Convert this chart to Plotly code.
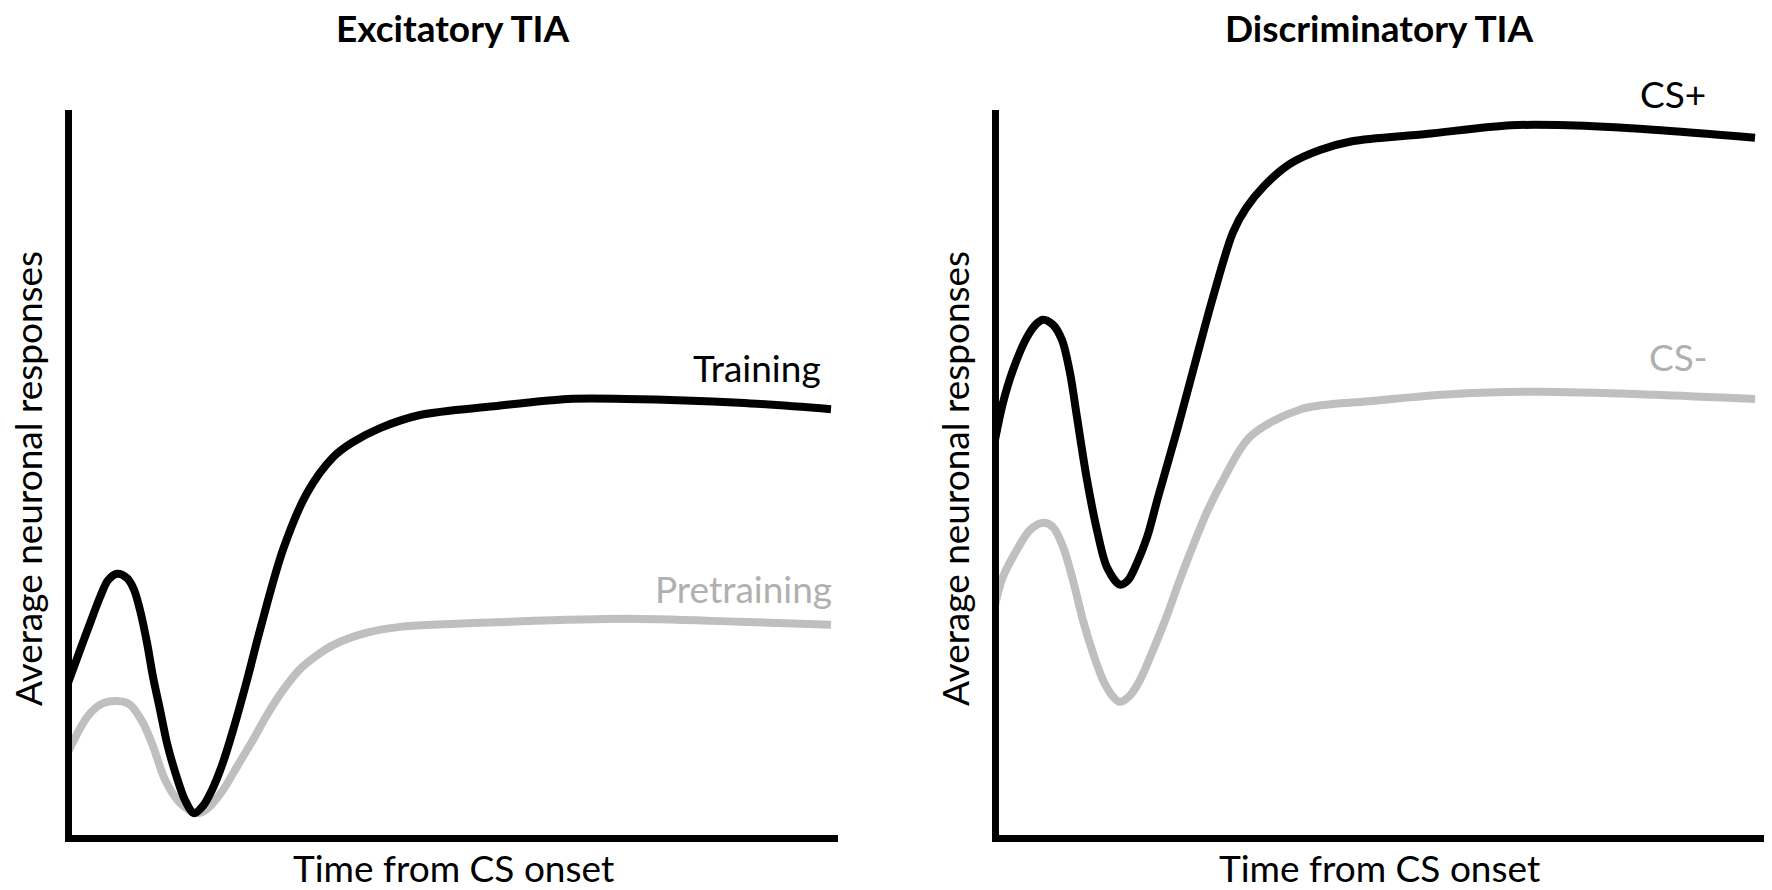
import plotly.graph_objects as go

# ---- data (arbitrary units: x = time 0..100, y = response 0..100) ----
train_x = [0, 1.56, 2.86, 4.16, 5.19, 6.36, 7.66, 8.57, 9.35, 10.26, 11.04, 11.95, 12.86, 14.03, 15.19,
           16.36, 17.53, 18.70, 20.0, 21.43, 23.25, 24.94, 27.92, 31.04, 34.42, 36.88, 40.52, 45.71,
           55.32, 64.94, 72.34, 87.14, 99.09]
train_y = [21.3, 25.8, 29.5, 33.1, 35.4, 36.3, 35.7, 34.1, 31.3, 26.8, 22.1, 17.6, 13.0, 8.65, 5.2,
           3.4, 4.4, 6.6, 10.0, 14.8, 21.7, 28.6, 39.6, 47.4, 52.3, 54.3, 56.3, 58.1,
           59.3, 60.3, 60.3, 59.8, 58.9]

pre_x = [0, 2.47, 4.16, 6.36, 8.05, 9.74, 11.04, 12.60, 14.55, 16.88, 18.18, 20.13, 21.95, 24.03, 25.84,
         27.92, 30.13, 32.34, 34.42, 38.83, 43.12, 57.53, 72.34, 87.14, 99.09]
pre_y = [11.8, 16.6, 18.3, 18.8, 18.3, 15.8, 12.6, 8.0, 4.8, 3.4, 4.1, 6.6, 9.8, 13.5, 16.9,
         20.3, 23.2, 25.1, 26.5, 28.2, 29.0, 29.7, 30.1, 29.7, 29.3]

csp_x = [0, 1.04, 2.34, 4.16, 5.46, 6.24, 7.54, 8.71, 9.75, 10.66, 11.96, 13.26, 14.56, 16.25, 17.30,
         18.47, 19.77, 21.20, 23.67, 26.01, 28.35, 30.95, 32.64, 35.11, 38.36, 42.26, 46.42, 56.05, 67.10,
         74.51, 85.57, 98.83]
csp_y = [54.7, 59.8, 64.3, 68.8, 70.7, 71.2, 70.5, 68.4, 63.9, 57.8, 49.2, 42.3, 37.2, 34.8, 35.4,
         37.8, 41.3, 46.8, 56.0, 65.2, 74.3, 83.2, 86.5, 89.7, 92.6, 94.5, 95.7, 96.7, 97.9,
         97.9, 97.3, 96.2]

csm_x = [0, 1.04, 2.86, 4.55, 6.24, 7.54, 8.84, 10.14, 11.44, 12.74, 14.04, 15.21, 16.25, 17.56, 18.86,
         20.55, 22.37, 23.80, 25.36, 27.57, 29.52, 33.16, 39.79, 48.63, 59.69, 70.74, 85.57, 98.83]
csm_y = [32.0, 35.9, 39.6, 42.3, 43.3, 42.7, 40.0, 35.4, 29.9, 25.4, 21.7, 19.6, 18.7, 19.6, 21.7,
         25.8, 30.6, 34.8, 39.1, 44.8, 48.9, 55.1, 58.9, 60.0, 61.0, 61.3, 60.9, 60.3]

titles = ["Excitatory TIA", "Discriminatory TIA"]
x_title = "Time from CS onset"
y_title = "Average neuronal responses"

BLACK = "#000000"
GRAY = "#bfbfbf"
GRAY_TXT = "#b0b0b0"
FONT = "Lato"
LW_AX = 7
LW = 8
FS = 37

fig = go.Figure()

def line(x, y, color, xa, ya, name):
    fig.add_trace(go.Scatter(x=x, y=y, mode="lines", name=name,
                             line=dict(color=color, width=LW, shape="spline", smoothing=0.9),
                             xaxis=xa, yaxis=ya, showlegend=False, hoverinfo="skip"))

line(pre_x, pre_y, GRAY, "x", "y", "Pretraining")
line(train_x, train_y, BLACK, "x", "y", "Training")
line(csm_x, csm_y, GRAY, "x2", "y2", "CS-")
line(csp_x, csp_y, BLACK, "x2", "y2", "CS+")

W, H = 1772, 890
ydom = [(H - 835) / H, (H - 110) / H]

ax_common = dict(showline=True, linecolor=BLACK, linewidth=LW_AX, showgrid=False,
                 zeroline=False, showticklabels=False, ticks="", fixedrange=True)

fig.update_layout(
    width=W, height=H,
    margin=dict(l=0, r=0, t=0, b=0),
    paper_bgcolor="white", plot_bgcolor="white",
    xaxis=dict(domain=[71.5 / W, 838 / W], range=[0.45, 100], anchor="y", **ax_common),
    yaxis=dict(domain=ydom, range=[0.41, 100], anchor="x", **ax_common),
    xaxis2=dict(domain=[999 / W, 1764 / W], range=[0.52, 100], anchor="y2", **ax_common),
    yaxis2=dict(domain=ydom, range=[0.41, 100], anchor="x2", **ax_common),
)

def ann(text, x, y, size, color=BLACK, bold=False, xanchor="center", angle=0):
    fig.add_annotation(text=("<b>%s</b>" % text) if bold else text,
                       x=x, y=y, xref="paper", yref="paper", xanchor=xanchor, yanchor="middle",
                       showarrow=False, textangle=angle,
                       font=dict(family=FONT, size=size, color=color))

ann(titles[0], 453 / W, (H - 27) / H, FS, bold=True)
ann(titles[1], 1379 / W, (H - 27) / H, FS, bold=True)
ann(x_title, 453 / W, (H - 867) / H, FS)
ann(x_title, 1379 / W, (H - 867) / H, FS)
ann(y_title, 27 / W, (H - 479) / H, FS, angle=-90)
ann(y_title, 954 / W, (H - 479) / H, FS, angle=-90)
ann("Training", 823 / W, (H - 367) / H, FS, xanchor="right")
ann("Pretraining", 834 / W, (H - 588) / H, FS, color=GRAY_TXT, xanchor="right")
ann("CS+", 1708 / W, (H - 94) / H, FS, xanchor="right")
ann("CS-", 1710 / W, (H - 357) / H, FS, color=GRAY_TXT, xanchor="right")

fig.write_html("out.html", config={"displayModeBar": False},
               post_script="document.body.style.margin='0';document.body.style.overflow='hidden';")
